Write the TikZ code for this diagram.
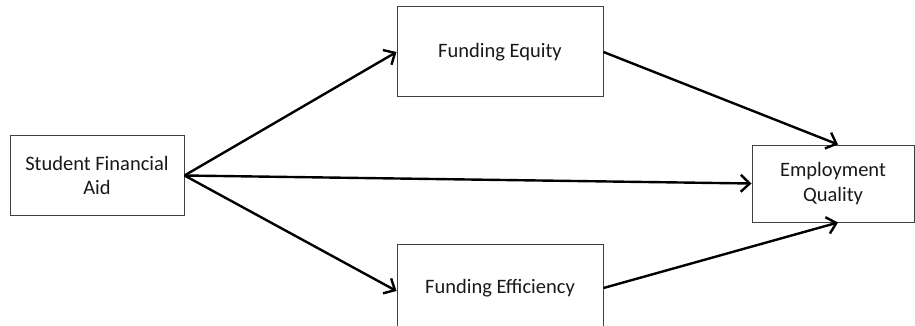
\documentclass[tikz,border=0pt]{standalone}
\usepackage{fontspec}
\setmainfont{Carlito}
\usetikzlibrary{arrows.meta}
\begin{document}
\begin{tikzpicture}[x=1pt,y=-1pt,
  box/.style={draw=black!75,line width=1pt,rectangle,inner sep=0pt,align=center,
    font=\fontsize{20.5}{24.6}\selectfont,text=black!90},
  link/.style={line width=2.4pt,-{Straight Barb[length=9pt,width=17pt,line width=2.4pt]}}]
  \useasboundingbox (0,0) rectangle (915,326);
  \clip (0,0) rectangle (915,326);
  \fill[white] (0,0) rectangle (915,326);
  % variables
  \node[box,minimum width=174pt,minimum height=79pt] (sfa) at (97,175.5) {Student Financial\\Aid};
  \node[box,minimum width=206pt,minimum height=90pt] (equity) at (500,52) {Funding Equity};
  \node[box,minimum width=206pt,minimum height=88pt] (effic) at (500,288) {Funding Efficiency};
  \node[box,minimum width=162pt,minimum height=77pt] (emp) at (833,183.5) {Employment\\Quality};
  % paths
  \draw[link] (sfa.east) -- (equity.west);
  \draw[link] (sfa.east) -- (emp.west);
  \draw[link] (sfa.east) -- ([yshift=-3pt]effic.west);
  \draw[link] (equity.east) -- ([xshift=5pt]emp.north);
  \draw[link] (effic.east) -- ([xshift=5pt]emp.south);
\end{tikzpicture}
\end{document}
